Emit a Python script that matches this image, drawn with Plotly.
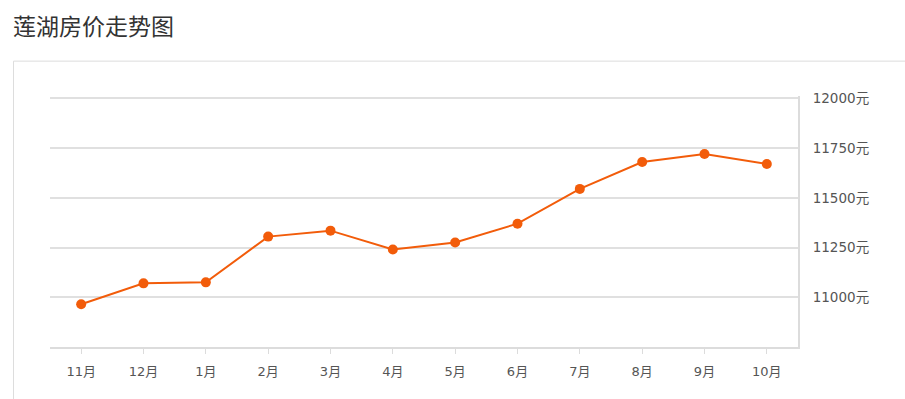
import plotly.graph_objects as go

months = ["11月", "12月", "1月", "2月", "3月", "4月", "5月", "6月", "7月", "8月", "9月", "10月"]
prices = [10965, 11070, 11075, 11305, 11335, 11240, 11275, 11370, 11545, 11680, 11720, 11670]
y_ticks = [11000, 11250, 11500, 11750, 12000]
y_tick_labels = ["11000元", "11250元", "11500元", "11750元", "12000元"]
title_text = "莲湖房价走势图"

W, H = 905, 399
L, R, T, B = 50, 107, 95.5, 51.5
pw, ph = W - L - R, H - T - B

def px_x(x):
    return (x - L) / pw

def px_y(y):
    return (H - B - y) / ph

font_family = "Noto Sans CJK SC, Noto Sans, sans-serif"
tick_family = "DejaVu Sans, Noto Sans CJK SC, sans-serif"

fig = go.Figure()
fig.add_trace(go.Scatter(
    x=months, y=prices, mode="lines+markers",
    line=dict(color="#f25c0a", width=2),
    marker=dict(color="#f25c0a", size=10),
    hoverinfo="x+y",
))

fig.update_layout(
    width=W, height=H,
    margin=dict(l=L, r=R, t=T, b=B),
    paper_bgcolor="white", plot_bgcolor="white",
    showlegend=False,
    font=dict(family=font_family, color="#555", size=12),
    xaxis=dict(
        type="category", range=[-0.5, len(months) - 0.5],
        showgrid=False, zeroline=False,
        showline=True, linecolor="#dcdcdc", linewidth=2,
        ticks="outside", ticklen=5, tickcolor="#dcdcdc", tickwidth=1,
        ticklabelstandoff=6,
        tickfont=dict(size=13, color="#555", family=tick_family),
        fixedrange=True,
    ),
    yaxis=dict(
        side="right", range=[10750, 12012],
        tickvals=y_ticks, ticktext=y_tick_labels,
        showgrid=True, gridcolor="#e0e0e0", gridwidth=1.5,
        zeroline=False, showline=True, linecolor="#dcdcdc", linewidth=2,
        ticks="", ticklabelstandoff=10,
        tickfont=dict(size=13.5, color="#555", family=tick_family),
        fixedrange=True,
    ),
    shapes=[dict(
        type="rect", xref="paper", yref="paper",
        x0=px_x(13.5), x1=px_x(930), y0=px_y(60.5), y1=px_y(430),
        line=dict(color="#dddddd", width=1), fillcolor="rgba(0,0,0,0)",
        layer="below",
    )],
    annotations=[dict(
        text=title_text, xref="paper", yref="paper",
        x=px_x(11), y=px_y(24), xanchor="left", yanchor="middle",
        showarrow=False, font=dict(size=23, color="#333", family=font_family),
    )],
)

fig.write_html("out.html", config={"displayModeBar": False})
